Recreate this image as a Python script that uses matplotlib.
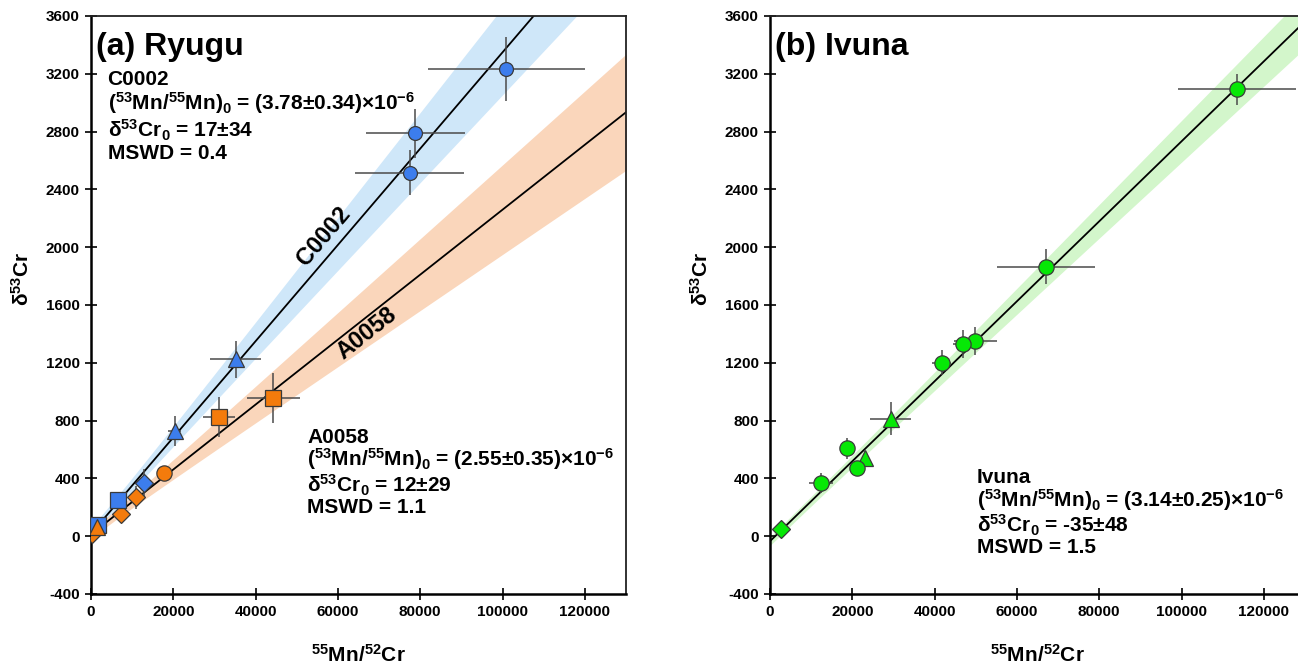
import numpy as np
import matplotlib
matplotlib.use("Agg")
import matplotlib.pyplot as plt

plt.rcParams['font.family'] = ['Liberation Sans', 'DejaVu Sans']
plt.rcParams['font.weight'] = 'bold'
plt.rcParams['mathtext.default'] = 'regular'

# ---------------- data ----------------
STD_RATIO = 0.113459  # 53Cr/52Cr used to convert slope to delta (permil)

# Panel (a) Ryugu, C0002 (blue)
c_circ_x = [100900, 78800, 77400]
c_circ_y = [3232, 2787, 2514]
c_circ_xe = [19100, 12000, 13200]
c_circ_ye = [222, 167, 156]
c_tri_x = [35200, 20300]
c_tri_y = [1225, 729]
c_tri_xe = [6200, 1500]
c_tri_ye = [127, 104]
c_dia_x = [12900]
c_dia_y = [371]
c_dia_xe = [600]
c_dia_ye = [97]
c_sq_x = [6600, 1600]
c_sq_y = [249, 76]
c_sq_xe = [400, 200]
c_sq_ye = [40, 30]

# Panel (a) Ryugu, A0058 (orange)
a_sq_x = [44300, 31200]
a_sq_y = [953, 826]
a_sq_xe = [6500, 3900]
a_sq_ye = [173, 138]
a_circ_x = [17700]
a_circ_y = [434]
a_circ_xe = [800]
a_circ_ye = [55]
a_dia_x = [10900, 7400, 300]
a_dia_y = [268, 150, 14]
a_dia_xe = [500, 400, 100]
a_dia_ye = [80, 40, 30]
a_tri_x = [1500]
a_tri_y = [64]
a_tri_xe = [200]
a_tri_ye = [30]

# Panel (b) Ivuna (green)
i_circ_x = [113500, 67100, 49900, 47000, 41700, 21100, 18700, 12400]
i_circ_y = [3093, 1864, 1349, 1329, 1200, 473, 607, 369]
i_circ_xe = [14400, 11900, 5200, 2500, 2400, 900, 900, 2900]
i_circ_ye = [106, 121, 97, 97, 85, 50, 70, 70]
i_tri_x = [29300, 23200]
i_tri_y = [814, 538]
i_tri_xe = [5000, 800]
i_tri_ye = [115, 50]
i_dia_x = [2800]
i_dia_y = [48]
i_dia_xe = [300]
i_dia_ye = [30]

# isochron parameters: (53Mn/55Mn)0 x1e6, error, intercept, error
iso_c = (3.78, 0.34, 17, 34)
iso_a = (2.55, 0.35, 12, 29)
iso_i = (3.14, 0.25, -35, 48)
# envelope half-widths as drawn (slope err x1e6, intercept err)
band_c = (0.34, 34)
band_a = (0.35, 29)
band_i = (0.16, 30)

xticks = [0, 20000, 40000, 60000, 80000, 100000, 120000]
yticks = [-400, 0, 400, 800, 1200, 1600, 2000, 2400, 2800, 3200, 3600]

# ---------------- colours ----------------
BLUE = '#3c7ded'
ORANGE = '#f47b0c'
GREEN = '#06e806'
BLUE_BAND = '#cfe7f9'
ORANGE_BAND = '#fad6bb'
GREEN_BAND = '#d3f6cb'
ERRC = '#4a4a4a'

fig = plt.figure(figsize=(12.98, 6.71), dpi=100)
axA = fig.add_axes([0.0701, 0.1148, 0.4122, 0.8614])
axB = fig.add_axes([0.5932, 0.1148, 0.4122, 0.8614])


def isochron(ax, params, band, color):
    r, re, b, be = params
    m = r * 1e-3 / STD_RATIO
    me = band[0] * 1e-3 / STD_RATIO
    x = np.linspace(0, 135000, 300)
    y = b + m * x
    env = np.sqrt(band[1] ** 2 + (me * x) ** 2)
    ax.fill_between(x, y - env, y + env, color=color, lw=0, zorder=1)
    ax.plot(x, y, color='black', lw=1.3, zorder=2)
    return m, b


def pts(ax, x, y, xe, ye, marker, color, ms):
    ax.errorbar(x, y, xerr=xe, yerr=ye, fmt='none', ecolor=ERRC, elinewidth=1.1,
                capsize=0, zorder=3)
    ax.plot(x, y, linestyle='none', marker=marker, ms=ms, mfc=color,
            mec='#3a3a3a', mew=0.9, zorder=4)


def style(ax):
    ax.set_xlim(0, 130000)
    ax.set_ylim(-400, 3600)
    ax.set_xticks(xticks)
    ax.set_yticks(yticks)
    ax.set_xticklabels([str(t) for t in xticks], fontsize=11, fontweight='bold')
    ax.set_yticklabels([str(t) for t in yticks], fontsize=11, fontweight='bold')
    ax.tick_params(direction='inout', length=8, width=1.2, pad=4)
    for s in ['left', 'bottom']:
        ax.spines[s].set_linewidth(1.8)
    for s in ['top', 'right']:
        ax.spines[s].set_linewidth(1.3)
        ax.spines[s].set_color('#222222')
    ax.set_ylabel(r'δ$^{53}$Cr', fontsize=15, fontweight='bold')
    ax.yaxis.set_label_coords(-0.108, 0.545)
    ax.set_xlabel(r'$^{55}$Mn/$^{52}$Cr', fontsize=15, fontweight='bold', labelpad=18)


def line_label(ax, text, x, m, b, d):
    y = b + m * x
    p1 = ax.transData.transform((x, y))
    p2 = ax.transData.transform((x + 10000, y + m * 10000))
    ang = np.arctan2(p2[1] - p1[1], p2[0] - p1[0])
    ax.annotate(text, xy=(x, y), xytext=(-np.sin(ang) * d, np.cos(ang) * d),
                textcoords='offset points', rotation=np.degrees(ang),
                rotation_mode='anchor', ha='center', va='center',
                fontsize=17, fontweight='bold', zorder=5)


# ---- panel (a) ----
style(axA)
mc, bc = isochron(axA, iso_c, band_c, BLUE_BAND)
ma, ba = isochron(axA, iso_a, band_a, ORANGE_BAND)
pts(axA, a_sq_x, a_sq_y, a_sq_xe, a_sq_ye, 's', ORANGE, 12)
pts(axA, a_circ_x, a_circ_y, a_circ_xe, a_circ_ye, 'o', ORANGE, 11)
pts(axA, a_dia_x, a_dia_y, a_dia_xe, a_dia_ye, 'D', ORANGE, 9)
pts(axA, c_circ_x, c_circ_y, c_circ_xe, c_circ_ye, 'o', BLUE, 10)
pts(axA, c_tri_x, c_tri_y, c_tri_xe, c_tri_ye, '^', BLUE, 12)
pts(axA, c_dia_x, c_dia_y, c_dia_xe, c_dia_ye, 'D', BLUE, 9)
pts(axA, c_sq_x, c_sq_y, c_sq_xe, c_sq_ye, 's', BLUE, 11)
pts(axA, a_tri_x, a_tri_y, a_tri_xe, a_tri_ye, '^', ORANGE, 11)
line_label(axA, 'C0002', 59500, mc, bc, 12)
line_label(axA, 'A0058', 65000, ma, ba, -9)

axA.text(0.010, 0.972, '(a) Ryugu', transform=axA.transAxes, fontsize=23,
         fontweight='bold', va='top', ha='left')
axA.text(0.031, 0.906,
         'C0002\n' r'($^{53}$Mn/$^{55}$Mn)$_0$ = (3.78±0.34)×10$^{-6}$' '\n'
         r'δ$^{53}$Cr$_0$ = 17±34' '\nMSWD = 0.4',
         transform=axA.transAxes, fontsize=15, fontweight='bold', va='top',
         ha='left', linespacing=1.06)
axA.text(0.404, 0.288,
         'A0058\n' r'($^{53}$Mn/$^{55}$Mn)$_0$ = (2.55±0.35)×10$^{-6}$' '\n'
         r'δ$^{53}$Cr$_0$ = 12±29' '\nMSWD = 1.1',
         transform=axA.transAxes, fontsize=15, fontweight='bold', va='top',
         ha='left', linespacing=1.0)

# ---- panel (b) ----
style(axB)
isochron(axB, iso_i, band_i, GREEN_BAND)
pts(axB, i_dia_x, i_dia_y, i_dia_xe, i_dia_ye, 'D', GREEN, 9)
pts(axB, i_tri_x, i_tri_y, i_tri_xe, i_tri_ye, '^', GREEN, 12)
pts(axB, i_circ_x, i_circ_y, i_circ_xe, i_circ_ye, 'o', GREEN, 11)
axB.text(0.010, 0.972, '(b) Ivuna', transform=axB.transAxes, fontsize=23,
         fontweight='bold', va='top', ha='left')
axB.text(0.387, 0.218,
         'Ivuna\n' r'($^{53}$Mn/$^{55}$Mn)$_0$ = (3.14±0.25)×10$^{-6}$' '\n'
         r'δ$^{53}$Cr$_0$ = -35±48' '\nMSWD = 1.5',
         transform=axB.transAxes, fontsize=15, fontweight='bold', va='top',
         ha='left', linespacing=1.0)

fig.savefig('out.png', dpi=100)
